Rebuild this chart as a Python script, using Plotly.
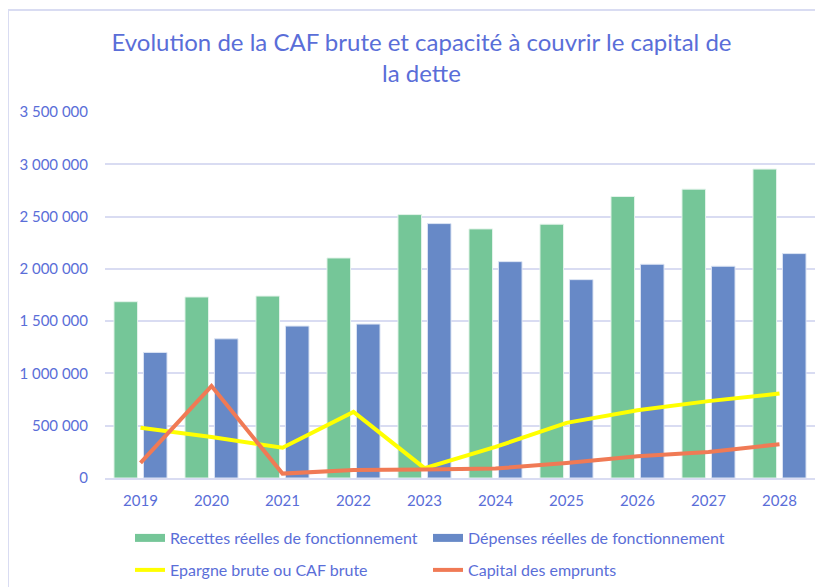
import plotly.graph_objects as go

years = ["2019", "2020", "2021", "2022", "2023", "2024", "2025", "2026", "2027", "2028"]
recettes = [1686000, 1731000, 1740000, 2104000, 2519000, 2382000, 2427000, 2692000, 2762000, 2954000]
depenses = [1201000, 1331000, 1453000, 1472000, 2433000, 2069000, 1897000, 2044000, 2025000, 2146000]
epargne = [481000, 392000, 289000, 632000, 94000, 297000, 527000, 648000, 735000, 808000]
capital = [144000, 879000, 42000, 76000, 82000, 90000, 144000, 208000, 249000, 323000]

names = ["Recettes réelles de fonctionnement", "Dépenses réelles de fonctionnement",
         "Epargne brute ou CAF brute", "Capital des emprunts"]
colors = ["#75C698", "#6789C7", "#FFFF00", "#F07A55"]

TXT = "#5A6ED8"
FONT = "Lato"
GRID = "#D9DCF2"

# figure sits at an 8px body offset in the page
W, H = 815, 579
ML, MR, MT, MB = 97, 8, 104, 109
PW, PH = W - ML - MR, H - MT - MB

fig = go.Figure()
fig.add_trace(go.Bar(x=years, y=recettes, name=names[0], showlegend=False, legendgroup="r",
                     marker=dict(color=colors[0], line=dict(color="#E3F3EA", width=1))))
fig.add_trace(go.Bar(x=years, y=depenses, name=names[1], showlegend=False, legendgroup="d",
                     marker=dict(color=colors[1], line=dict(color="#DCE4F3", width=1))))
fig.add_trace(go.Scatter(x=years, y=epargne, name=names[2], mode="lines", legend="legend2",
                         line=dict(color=colors[2], width=4)))
fig.add_trace(go.Scatter(x=years, y=capital, name=names[3], mode="lines", legend="legend2",
                         line=dict(color=colors[3], width=4)))
# legend swatches for the bar series (wide rectangles, as in the original)
fig.add_trace(go.Scatter(x=[None], y=[None], name=names[0], mode="lines", legendgroup="r",
                         line=dict(color=colors[0], width=8), legend="legend"))
fig.add_trace(go.Scatter(x=[None], y=[None], name=names[1], mode="lines", legendgroup="d",
                         line=dict(color=colors[1], width=8), legend="legend"))

leg_common = dict(orientation="h", xanchor="left", yanchor="middle",
                  xref="container", yref="container",
                  entrywidth=253, entrywidthmode="pixels", traceorder="normal",
                  font=dict(family=FONT, size=16, color=TXT), bgcolor="rgba(0,0,0,0)")
lx = 122 / W

fig.update_layout(
    width=W, height=H,
    margin=dict(l=ML, r=MR, t=MT, b=MB, autoexpand=False),
    paper_bgcolor="white", plot_bgcolor="white",
    separators=", ",
    font=dict(family=FONT, color=TXT, size=15),
    title=dict(text="Evolution de la CAF brute et capacité à couvrir le capital de<br>la dette",
               x=413.5 / W, xanchor="center", xref="container",
               y=1 - 43 / H, yanchor="top", yref="container",
               font=dict(family=FONT, size=24, color=TXT)),
    barmode="group", bargap=0.17, bargroupgap=0.2,
    showlegend=True,
    legend=dict(x=lx, y=1 - 530 / H, **leg_common),
    legend2=dict(x=lx, y=1 - 562 / H, **leg_common),
    shapes=[
        dict(type="line", xref="paper", yref="paper", x0=-ML / PW, x1=1.2,
             y0=1 + (MT - 2) / PH, y1=1 + (MT - 2) / PH, line=dict(color=GRID, width=2)),
        dict(type="line", xref="paper", yref="paper", x0=-ML / PW, x1=-ML / PW,
             y0=-0.5, y1=1 + (MT - 2) / PH, line=dict(color=GRID, width=2)),
    ],
)
fig.update_xaxes(showgrid=False, showline=True, linecolor=GRID, linewidth=1.5,
                 ticks="", ticklabelstandoff=8,
                 tickfont=dict(family=FONT, size=15, color=TXT))
fig.update_yaxes(range=[0, 3500000], dtick=500000, tickformat=",d", showgrid=True,
                 gridcolor=GRID, gridwidth=1.5, zeroline=False, ticks="",
                 ticklabelstandoff=16,
                 tickfont=dict(family=FONT, size=15, color=TXT))

fig.write_html("out.html")
